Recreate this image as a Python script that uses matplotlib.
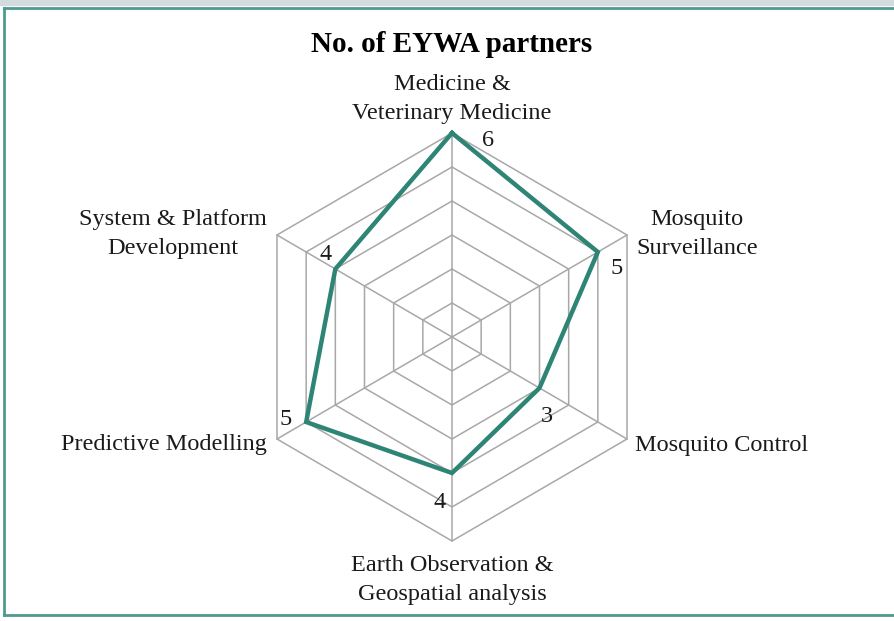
import numpy as np
import matplotlib
matplotlib.use("Agg")
import matplotlib.pyplot as plt
from matplotlib.lines import Line2D

plt.rcParams['font.family'] = ['Liberation Serif', 'DejaVu Serif']

# data
categories = ["Medicine &\nVeterinary Medicine", "Mosquito\nSurveillance", "Mosquito Control",
              "Earth Observation &\nGeospatial analysis", "Predictive Modelling",
              "System & Platform\nDevelopment"]
values = [6, 5, 3, 4, 5, 4]
rings = [1, 2, 3, 4, 5, 6]
title = "No. of EYWA partners"

# label placement (pixels offset from the point / outer vertex)
value_offsets = [(36, -7), (19, -16), (7, -28), (-12, -30), (-21, 3), (-10, 15)]
cat_offsets = [(0, 34), (9, 1), (8, -6), (0, -39), (-10, -5), (-10, 1)]
cat_ha = ['center', 'left', 'left', 'center', 'right', 'right']

teal = '#2E8576'
grid_col = '#A8A8A8'

W, H = 894, 621
fig = plt.figure(figsize=(W / 100, H / 100), dpi=100)
ax = fig.add_axes([0, 0, 1, 1])

# centre of the web in pixels and pixel size of one unit
cx, cy = 452, 337
ux = 175 / 6 / np.cos(np.pi / 6)
uy = 34.0
ax.set_xlim(-cx / ux, (W - cx) / ux)
ax.set_ylim(-(H - cy) / uy, cy / uy)
ax.axis('off')

n = len(categories)
ang = np.pi / 2 - np.arange(n) * 2 * np.pi / n
ca, sa = np.cos(ang), np.sin(ang)

# web grid
rmax = max(rings)
for r in rings:
    ax.plot(np.append(r * ca, r * ca[0]), np.append(r * sa, r * sa[0]),
            color=grid_col, lw=1.1, zorder=1)
for i in range(n):
    ax.plot([0, rmax * ca[i]], [0, rmax * sa[i]], color=grid_col, lw=1.1, zorder=1)

# series
v = np.array(values, dtype=float)
ax.plot(np.append(v * ca, v[0] * ca[0]), np.append(v * sa, v[0] * sa[0]),
        color=teal, lw=3.2, solid_joinstyle='miter', zorder=3)

for i in range(n):
    ax.annotate(str(values[i]), (v[i] * ca[i], v[i] * sa[i]),
                xytext=value_offsets[i], textcoords='offset pixels',
                ha='center', va='center', fontsize=17.5, color='#1a1a1a')
    ax.annotate(categories[i], (rmax * ca[i], rmax * sa[i]),
                xytext=cat_offsets[i], textcoords='offset pixels',
                ha=cat_ha[i], va='center', multialignment='center',
                fontsize=17.5, color='#1a1a1a', linespacing=1.45)

fig.text(452 / W, 1 - 44 / H, title, ha='center', va='center',
         fontsize=21, fontweight='bold', color='black')

# frame around the chart
fig.patches.append(plt.Rectangle((0, 1 - 5 / H), 1, 5 / H, transform=fig.transFigure,
                                 color='#D3DBDE', zorder=0))
fr = '#4E9A8F'
fig.lines.append(Line2D([4 / W, 4 / W], [1 - 8 / H, 1 - 615 / H], transform=fig.transFigure,
                        color=fr, lw=2))
fig.lines.append(Line2D([4 / W, 1], [1 - 8 / H, 1 - 8 / H], transform=fig.transFigure,
                        color=fr, lw=2))
fig.lines.append(Line2D([4 / W, 1], [1 - 615 / H, 1 - 615 / H], transform=fig.transFigure,
                        color=fr, lw=2))

fig.savefig('out.png', dpi=100)
